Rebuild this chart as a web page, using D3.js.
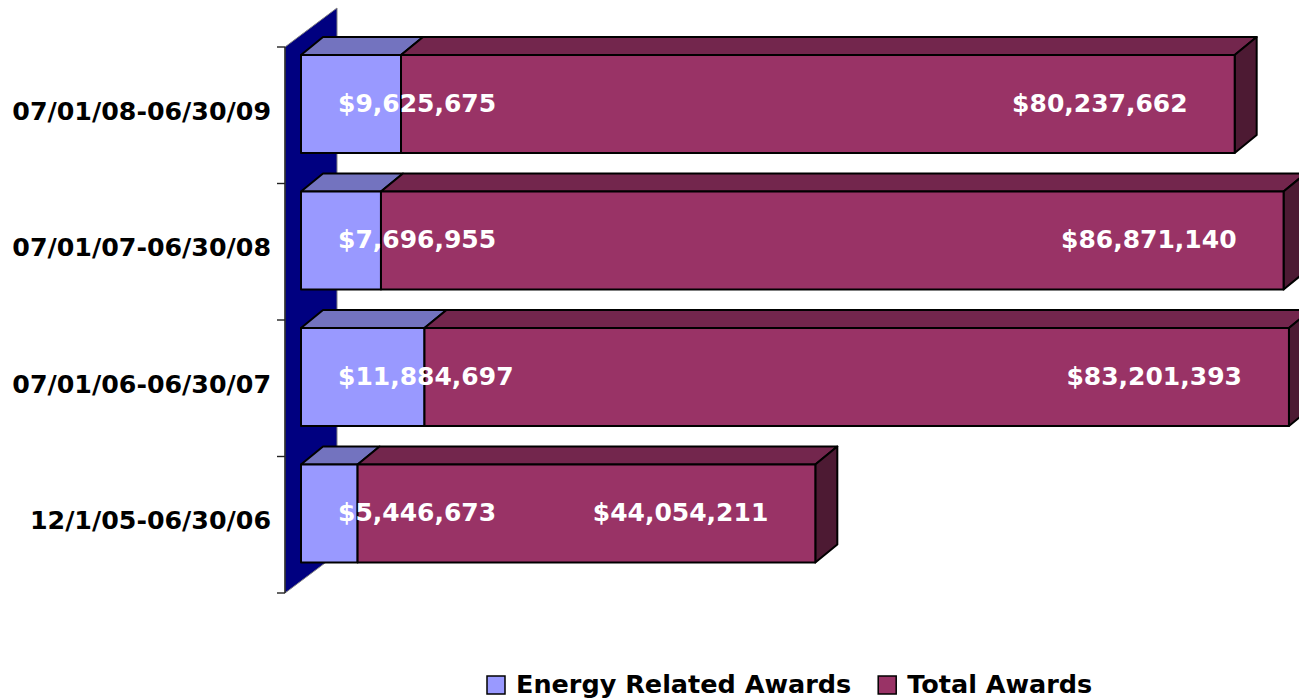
<!DOCTYPE html>
<html>
<head>
<meta charset="utf-8">
<script src="https://cdn.jsdelivr.net/npm/d3@7"></script>
<style>
  html, body { margin: 0; padding: 0; background: #fff; }
  svg { display: block; }
  text { font-family: "DejaVu Sans", sans-serif; font-weight: bold; }
</style>
</head>
<body>
<svg id="chart" width="1299" height="700"></svg>
<script>
"use strict";

// data, top row first
const categories = [ "07/01/08-06/30/09", "07/01/07-06/30/08", "07/01/06-06/30/07", "12/1/05-06/30/06" ];
const energyAwards = [ 9625675, 7696955, 11884697, 5446673 ];
const totalAwards  = [ 80237662, 86871140, 83201393, 44054211 ];
const seriesNames  = [ "Energy Related Awards", "Total Awards" ];

const W = 1299, H = 700;
const depth = { dx: 22, dy: -18 };           // 3d offset of bar back faces
const colors = {
  energy: { front: "#9999FF", top: "#7373BF" },
  total:  { front: "#993366", top: "#73264D", side: "#4D1A33" },
  wall: "#000080"
};
const fmt = (v) => "$" + d3.format(",")(v);

const svg = d3.select("#chart").attr("viewBox", `0 0 ${W} ${H}`);

// scales
const x = d3.scaleLinear().domain([0, 100e6]).range([301, 1340]);
const wallTop = 47, wallBottom = 593;
const y = d3.scaleBand()
            .domain(categories)
            .range([wallTop - 11.25, wallBottom - 11.25])
            .paddingInner(0.282)
            .paddingOuter(0.141);
const bh = y.bandwidth();

// back wall
const wallX = x(0) - 16, wallW = 52, wallRise = 39;
svg.append("path")
   .attr("d", `M${wallX},${wallTop} L${wallX + wallW},${wallTop - wallRise}
               L${wallX + wallW},${wallBottom - wallRise} L${wallX},${wallBottom} Z`)
   .attr("fill", colors.wall)
   .attr("stroke", "#808080")
   .attr("stroke-width", 1);

// axis line + ticks
const tickY = d3.range(categories.length + 1)
                .map((i) => wallTop + i * (wallBottom - wallTop) / categories.length);
svg.append("line")
   .attr("x1", wallX).attr("x2", wallX)
   .attr("y1", wallTop).attr("y2", wallBottom)
   .attr("stroke", "#222").attr("stroke-width", 1.4);
svg.selectAll(".tick")
   .data(tickY)
   .enter().append("line")
   .attr("x1", wallX - 8).attr("x2", wallX)
   .attr("y1", (d) => d).attr("y2", (d) => d)
   .attr("stroke", "#222").attr("stroke-width", 1.4);

// rows
const rows = categories.map((c, i) => ({
  cat: c,
  energy: energyAwards[i],
  total: totalAwards[i]
}));

function topFace(x0, x1, t) {
  return `M${x0},${t} L${x0 + depth.dx},${t + depth.dy} L${x1 + depth.dx},${t + depth.dy} L${x1},${t} Z`;
}
function sideFace(x1, t) {
  return `M${x1},${t} L${x1 + depth.dx},${t + depth.dy} L${x1 + depth.dx},${t + bh + depth.dy} L${x1},${t + bh} Z`;
}

const g = svg.selectAll(".bar")
             .data(rows)
             .enter().append("g")
             .attr("class", "bar");

const stroke = { stroke: "#000", "stroke-width": 2, "stroke-linejoin": "round" };
function styled(sel) {
  Object.entries(stroke).forEach(([k, v]) => sel.attr(k, v));
  return sel;
}

// energy segment
styled(g.append("path")
  .attr("d", (d) => topFace(x(0), x(d.energy), y(d.cat)))
  .attr("fill", colors.energy.top));
styled(g.append("rect")
  .attr("x", x(0))
  .attr("y", (d) => y(d.cat))
  .attr("width", (d) => x(d.energy) - x(0))
  .attr("height", bh)
  .attr("fill", colors.energy.front));

// total segment, stacked on energy
styled(g.append("path")
  .attr("d", (d) => topFace(x(d.energy), x(d.energy + d.total), y(d.cat)))
  .attr("fill", colors.total.top));
styled(g.append("path")
  .attr("d", (d) => sideFace(x(d.energy + d.total), y(d.cat)))
  .attr("fill", colors.total.side));
styled(g.append("rect")
  .attr("x", (d) => x(d.energy))
  .attr("y", (d) => y(d.cat))
  .attr("width", (d) => x(d.energy + d.total) - x(d.energy))
  .attr("height", bh)
  .attr("fill", colors.total.front));

// value labels
g.append("text")
  .attr("x", x(0) + 37)
  .attr("y", (d) => y(d.cat) + 57)
  .attr("fill", "#fff")
  .attr("font-size", 25)
  .text((d) => fmt(d.energy));
g.append("text")
  .attr("x", (d) => x(d.energy + d.total) - 47)
  .attr("y", (d) => y(d.cat) + 57)
  .attr("text-anchor", "end")
  .attr("fill", "#fff")
  .attr("font-size", 25)
  .text((d) => fmt(d.total));

// category labels
svg.selectAll(".cat")
   .data(categories)
   .enter().append("text")
   .attr("class", "cat")
   .attr("x", 271)
   .attr("y", (d) => y(d) + 65)
   .attr("text-anchor", "end")
   .attr("font-size", 25.3)
   .attr("fill", "#000")
   .text((d) => d);

// legend
const legend = svg.append("g").attr("transform", "translate(0,693)");
const swatch = [colors.energy.front, colors.total.front];
let lx = 487;
seriesNames.forEach((name, i) => {
  legend.append("rect")
        .attr("x", lx).attr("y", -17)
        .attr("width", 18).attr("height", 18)
        .attr("fill", swatch[i])
        .attr("stroke", "#000").attr("stroke-width", 1.5);
  const t = legend.append("text")
        .attr("x", lx + 29).attr("y", 0)
        .attr("font-size", 25.5)
        .attr("fill", "#000")
        .text(name);
  lx += 29 + t.node().getComputedTextLength() + 27;
});
</script>
</body>
</html>
